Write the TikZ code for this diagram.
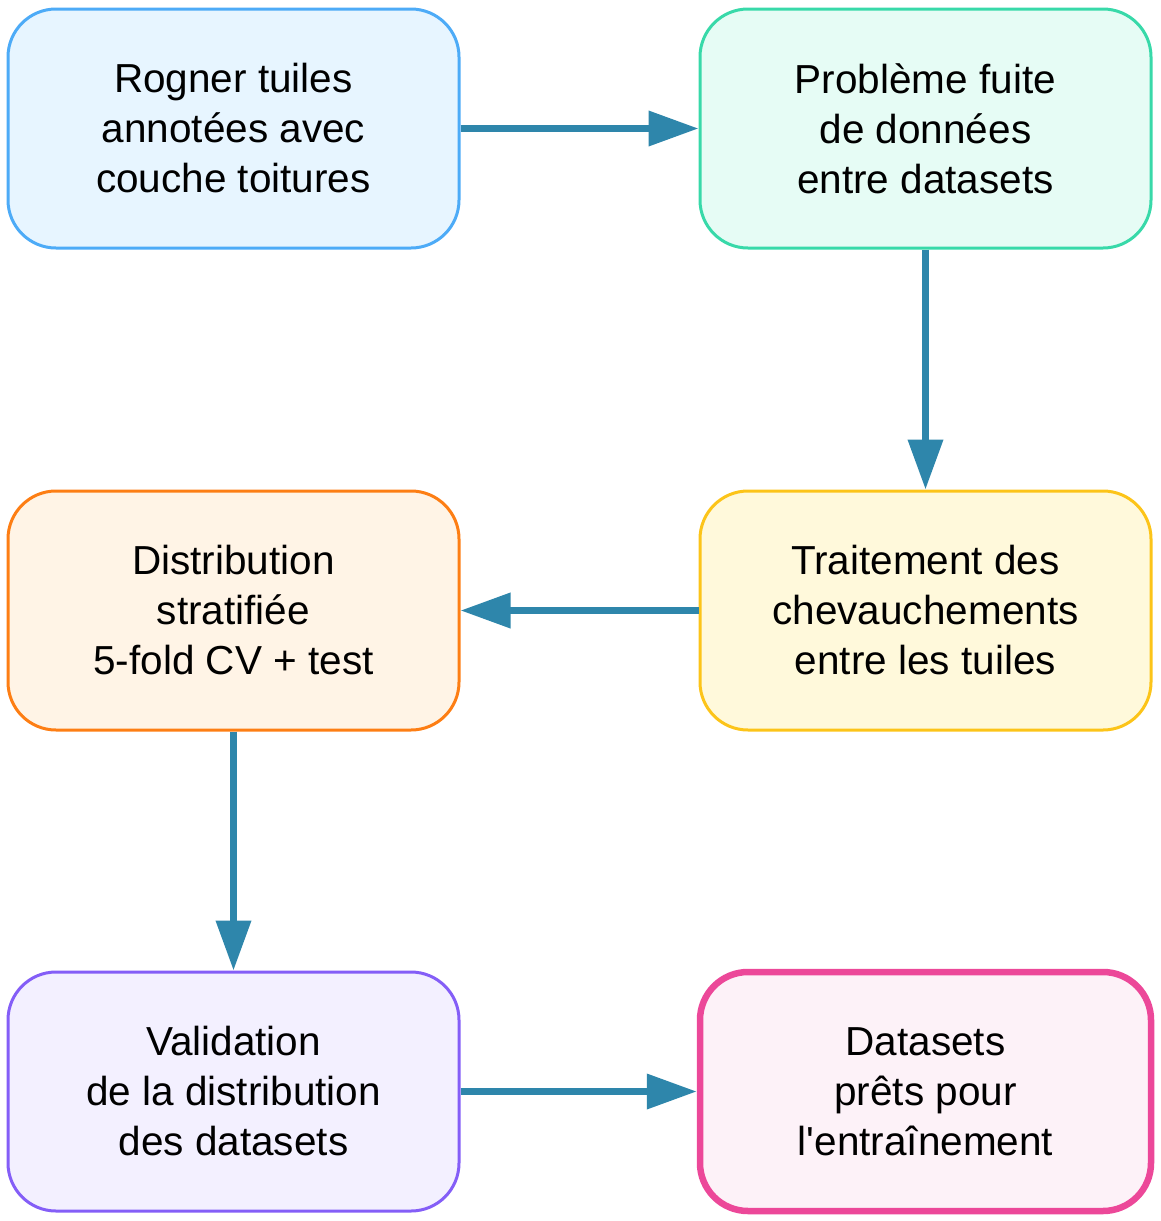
\documentclass[tikz,border=0pt]{standalone}
\usepackage{fontspec}
\setmainfont{Liberation Sans}[Ligatures=TeXOff]
\usetikzlibrary{arrows.meta,positioning}
\definecolor{bluebd}{HTML}{4DABF7}\definecolor{bluefl}{HTML}{E7F5FF}
\definecolor{greenbd}{HTML}{38D9A9}\definecolor{greenfl}{HTML}{E6FCF5}
\definecolor{yellowbd}{HTML}{FCC419}\definecolor{yellowfl}{HTML}{FFF9DB}
\definecolor{orangebd}{HTML}{FD7E14}\definecolor{orangefl}{HTML}{FFF4E6}
\definecolor{purplebd}{HTML}{845EF7}\definecolor{purplefl}{HTML}{F3F0FF}
\definecolor{pinkbd}{HTML}{EC4899}\definecolor{pinkfl}{HTML}{FDF2F8}
\definecolor{arrowc}{HTML}{2E86AB}
\begin{document}
\begin{tikzpicture}[x=1pt,y=-1pt,
  box/.style={rounded corners=48pt, minimum width=451pt, minimum height=239pt,
    line width=3pt, align=center, inner sep=0pt,
    font=\fontsize{40.5pt}{50pt}\selectfont},
  flow/.style={draw=arrowc, line width=7pt, -{Triangle[length=50pt,width=34pt]}}]
\useasboundingbox (0,0) rectangle (1160,1221);
\node[box, draw=bluebd, fill=bluefl] (a) at (233.5,128.5) {Rogner tuiles\\annotées avec\\couche toitures};
\node[box, draw=greenbd, fill=greenfl] (b) at (925.5,128.5) {Problème fuite\\de données\\entre datasets};
\node[box, draw=yellowbd, fill=yellowfl] (c) at (925.5,610.5) {Traitement des\\chevauchements\\entre les tuiles};
\node[box, draw=orangebd, fill=orangefl] (d) at (233.5,610.5) {Distribution\\stratifiée\\5-fold CV + test};
\node[box, draw=purplebd, fill=purplefl] (e) at (233.5,1091.5) {Validation\\de la distribution\\des datasets};
\node[box, draw=pinkbd, fill=pinkfl, line width=6.5pt] (f) at (925.5,1091.5) {Datasets\\prêts pour\\l'entraînement};
\draw[flow] (a.east) -- (b.west);
\draw[flow] (b.south) -- (c.north);
\draw[flow] (c.west) -- (d.east);
\draw[flow] (d.south) -- (e.north);
\draw[flow] (e.east) -- (f.west);
\end{tikzpicture}
\end{document}
